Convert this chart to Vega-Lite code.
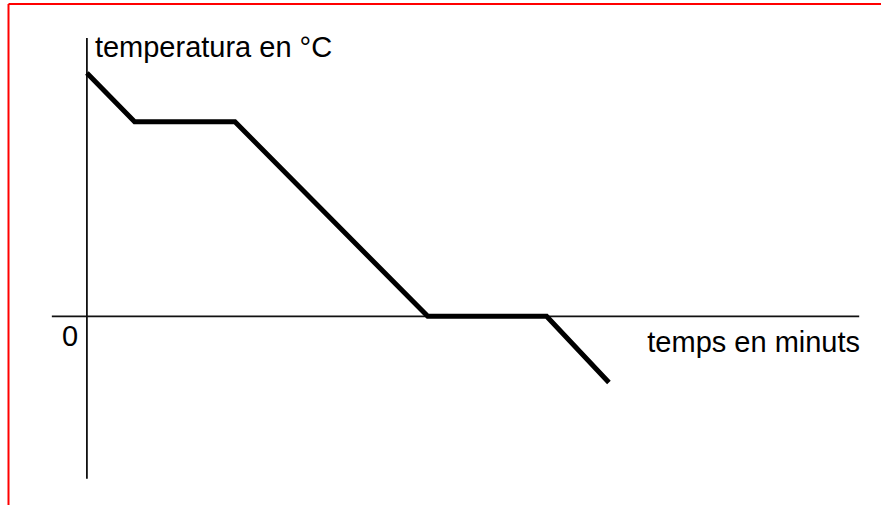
{
  "$schema": "https://vega.github.io/schema/vega-lite/v6.json",
  "width": 882,
  "height": 506,
  "padding": 0,
  "autosize": {"type": "fit", "contains": "padding"},
  "background": "#ffffff",
  "config": {"view": {"stroke": null}},
  "datasets": {
    "curve": [
      {"minuts": 0, "temperatura": 25},
      {"minuts": 4.9, "temperatura": 20},
      {"minuts": 15.2, "temperatura": 20},
      {"minuts": 35, "temperatura": 0},
      {"minuts": 47.2, "temperatura": 0},
      {"minuts": 53.6, "temperatura": -6.8}
    ],
    "axes": [
      {"x1": 0, "x2": 0, "y1": 28.6, "y2": -16.7},
      {"x1": -3.6, "x2": 79.3, "y1": 0, "y2": 0}
    ],
    "labels": [
      {"text": "temperatura en °C", "x": 0.82, "y": 26.67},
      {"text": "temps en minuts", "x": 57.54, "y": -3.69},
      {"text": "0", "x": -2.56, "y": -3.08}
    ]
  },
  "layer": [
    {
      "data": {"values": [{}]},
      "mark": {"type": "rule", "color": "#ff0000", "strokeWidth": 2},
      "encoding": {
        "x": {"datum": -8.05, "type": "quantitative", "scale": {"domain": [-8.923, 81.538], "nice": false, "zero": false}, "axis": null},
        "y": {"datum": 32.1, "type": "quantitative", "scale": {"domain": [-19.385, 32.513], "nice": false, "zero": false}, "axis": null},
        "y2": {"datum": -19.385}
      }
    },
    {
      "data": {"values": [{}]},
      "mark": {"type": "rule", "color": "#ff0000", "strokeWidth": 2},
      "encoding": {
        "x": {"datum": -8.05, "type": "quantitative"},
        "x2": {"datum": 81.538},
        "y": {"datum": 32.1, "type": "quantitative"}
      }
    },
    {
      "data": {"name": "axes"},
      "mark": {"type": "rule", "color": "#111111", "strokeWidth": 1.8},
      "encoding": {
        "x": {"field": "x1", "type": "quantitative"},
        "x2": {"field": "x2"},
        "y": {"field": "y1", "type": "quantitative"},
        "y2": {"field": "y2"}
      }
    },
    {
      "data": {"name": "curve"},
      "mark": {"type": "line", "color": "#000000", "strokeWidth": 5, "strokeJoin": "miter", "strokeCap": "butt"},
      "encoding": {
        "x": {"field": "minuts", "type": "quantitative"},
        "y": {"field": "temperatura", "type": "quantitative"}
      }
    },
    {
      "data": {"name": "labels"},
      "mark": {"type": "text", "align": "left", "baseline": "alphabetic", "font": "Liberation Sans", "fontSize": 29, "color": "#000000"},
      "encoding": {
        "x": {"field": "x", "type": "quantitative"},
        "y": {"field": "y", "type": "quantitative"},
        "text": {"field": "text"}
      }
    }
  ]
}
